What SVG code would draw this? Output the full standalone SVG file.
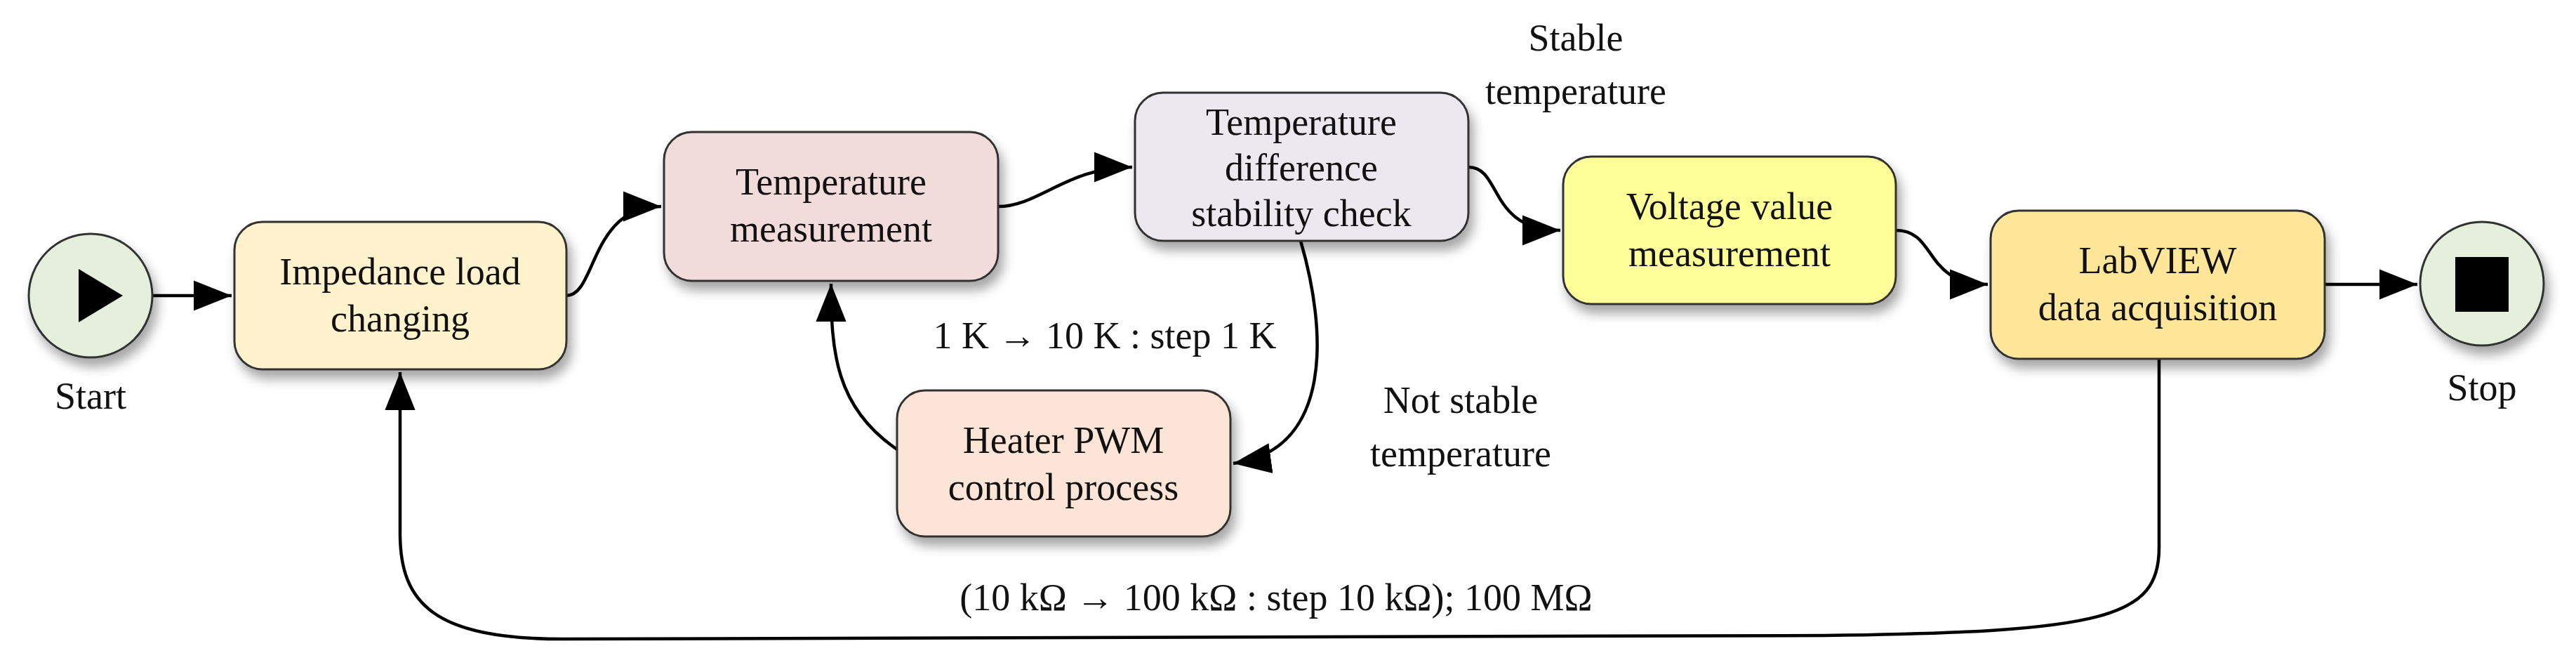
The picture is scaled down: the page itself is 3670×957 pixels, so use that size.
<svg xmlns="http://www.w3.org/2000/svg" width="3670" height="957" viewBox="0 0 3670 957">
<defs>
<filter id="sh" x="-20%" y="-20%" width="140%" height="150%"><feDropShadow dx="6" dy="12" stdDeviation="8" flood-color="#000" flood-opacity="0.35"/></filter>
<marker id="a" viewBox="0 0 10 10" refX="10" refY="5" markerWidth="12" markerHeight="12" orient="auto"><path d="M0,1 L10,5 L0,9 z" fill="#000"/></marker>
</defs>
<style>
.n{stroke:#333;stroke-width:3;filter:url(#sh)}
text{font-family:"Liberation Serif","DejaVu Serif",serif;font-size:54px;fill:#111;text-anchor:middle}
.c path{fill:none;stroke:#000;stroke-width:4.5;marker-end:url(#a)}
</style>
<g class="c">
<path d="M218,421 L330,421"/>
<path d="M807,421 C850,421 840,294 942,294"/>
<path d="M1422,294 C1480,294 1520,238 1613,238"/>
<path d="M2092,238 C2140,238 2120,328 2223,328"/>
<path d="M2701,328 C2760,328 2740,405 2832,405"/>
<path d="M3312,405 L3444,405"/>
<path d="M1853,343 C1890,470 1900,640 1757,660"/>
<path d="M1278,640 C1190,580 1184,500 1184,404"/>
<path d="M3076,511 L3076,780 C3076,880 3000,900 2600,905 L800,910 C620,910 570,860 570,760 L570,530"/>
</g>
<g id="start"><circle class="n" cx="129" cy="421" r="88" fill="#e6efdb"/><path d="M112,383 L112,459 L175,421 z" fill="#000"/><text x="129" y="582">Start</text></g>
<g id="impedance"><rect class="n" x="334" y="316" width="473" height="210" rx="40" fill="#fff2cc"/><text x="570" y="405">Impedance load</text><text x="570" y="472">changing</text></g>
<g id="tempmeas"><rect class="n" x="946" y="188" width="476" height="212" rx="40" fill="#f2dcdb"/><text x="1184" y="277">Temperature</text><text x="1184" y="344">measurement</text></g>
<g id="diff"><rect class="n" x="1617" y="132" width="475" height="211" rx="40" fill="#ebe8f0"/><text x="1854" y="192">Temperature</text><text x="1854" y="257">difference</text><text x="1854" y="322">stability check</text></g>
<g id="heater"><rect class="n" x="1278" y="556" width="475" height="208" rx="40" fill="#fce4d6"/><text x="1515" y="645">Heater PWM</text><text x="1515" y="712">control process</text></g>
<g id="voltage"><rect class="n" x="2227" y="223" width="474" height="210" rx="40" fill="#ffff99"/><text x="2464" y="312">Voltage value</text><text x="2464" y="379">measurement</text></g>
<g id="labview"><rect class="n" x="2836" y="300" width="476" height="211" rx="40" fill="#ffe699"/><text x="3074" y="389">LabVIEW</text><text x="3074" y="456">data acquisition</text></g>
<g id="stop"><circle class="n" cx="3536" cy="404" r="88" fill="#e6efdb"/><rect x="3498" y="366" width="76" height="78" fill="#000"/><text x="3536" y="570">Stop</text></g>
<g id="labels">
<text x="2245" y="72">Stable</text><text x="2245" y="148">temperature</text>
<text x="2081" y="588">Not stable</text><text x="2081" y="664">temperature</text>
<text x="1574" y="496">1 K → 10 K : step 1 K</text>
<text x="1818" y="869">(10 kΩ → 100 kΩ : step 10 kΩ);  100 MΩ</text>
</g>
</svg>
